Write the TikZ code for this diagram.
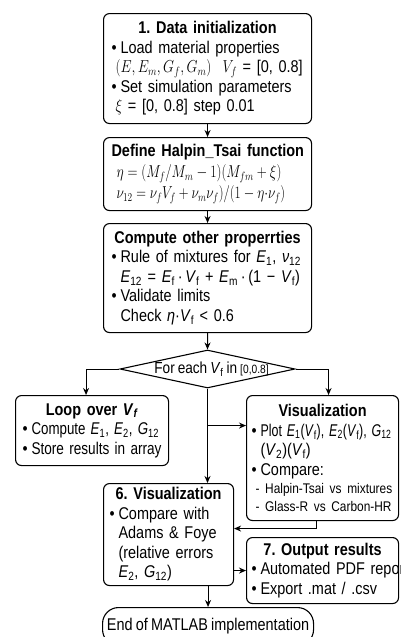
\documentclass[tikz,border=0pt]{standalone}
\usepackage{fontspec}
\usepackage{graphicx}
\setmainfont{Liberation Sans}[FakeStretch=0.85,WordSpace=0.8]
\usetikzlibrary{shapes.geometric,arrows.meta,calc}
\frenchspacing
\newcommand{\vi}[2]{\textit{#1}\textsubscript{#2}}
\newcommand{\bul}{\makebox[9pt][l]{•}}
\newcommand{\ind}{\hspace*{9pt}}
\newcommand{\lin}[1]{\mbox{#1}\par}
\newcommand{\ttl}[1]{{\centering\bfseries\mbox{#1}\par}}
\begin{document}
\begin{tikzpicture}[x=1pt,y=-1pt,
  font=\fontsize{17}{19.5}\selectfont,
  box/.style={draw, line width=1.1pt, rounded corners=6pt, anchor=north west,
    inner xsep=8pt, inner ysep=0pt, align=left},
  arr/.style={-{Stealth[length=7pt,width=6pt]}, line width=1pt}]
\useasboundingbox (0,0) rectangle (400,637);

\node[box, minimum width=208pt, minimum height=110pt, text width=192pt] (b1) at (103,13) {%
\ttl{1. Data initialization}
\lin{\bul Load material properties}
\lin{\hspace*{4pt}\scalebox{0.82}[1]{$(E, E_m, G_f, G_m)$}\ \ \scalebox{0.82}[1]{$V_f$} = [0, 0.8]}
\lin{\bul Set simulation parameters}
\lin{\hspace*{4pt}\scalebox{0.82}[1]{$\xi$} = [0, 0.8] step 0.01}};

\node[box, minimum width=208pt, minimum height=73pt, text width=192pt, font=\fontsize{17}{21}\selectfont] (b2) at (103,137) {%
\ttl{Define Halpin\_Tsai function}
\lin{\hspace*{5pt}\scalebox{0.8}[1]{$\eta = (M_f/M_m - 1)(M_{fm} + \xi)$}}
\lin{\hspace*{5pt}\scalebox{0.78}[1]{$\nu_{12} = \nu_f V_f + \nu_m \nu_f)/(1 - \eta{\cdot}\nu_f)$}}};

\node[box, minimum width=208pt, minimum height=109pt, text width=192pt] (b3) at (103,223) {%
\ttl{Compute other properrties}
\lin{\bul Rule of mixtures for \vi{E}{1}, \vi{ν}{12}}
\lin{\ind \vi{E}{12} = \vi{E}{f}\,·\,\vi{V}{f} + \vi{E}{m}\,·\,(1 − \vi{V}{f})}
\lin{\bul Validate limits}
\lin{\ind Check \textit{η}·\vi{V}{f} < 0.6}};

\node[draw, diamond, line width=1.1pt, minimum width=175pt, minimum height=38pt, inner sep=0pt] (dia) at (207.5,369) {};
\node[font=\fontsize{16}{18}\selectfont] (dtx) at ($(dia.center)+(4,0)$) {For each \vi{V}{f} in {\fontsize{12}{14}\selectfont [0,0.8]}};

\node[box, minimum width=153pt, minimum height=70pt, text width=139pt, inner xsep=7pt] (loop) at (15,395) {%
\ttl{Loop over \textit{V}\textsubscript{\textit{f}}}
\lin{\bul \scalebox{0.92}[1]{Compute \vi{E}{1}, \vi{E}{2}, \vi{G}{12}}}
\lin{\bul \scalebox{0.94}[1]{Store results in array}}};

\node[box, minimum width=152pt, minimum height=125pt, text width=142pt, inner xsep=5pt] (viz) at (246,395) {%
\ttl{Visualization}
\lin{\bul \scalebox{0.86}[1]{Plot \vi{E}{1}(\vi{V}{f}), \vi{E}{2}(\vi{V}{f}), \vi{G}{12}}}
\lin{\ind (\vi{V}{2})(\vi{V}{f})}
\lin{\bul Compare:}
{\fontsize{14}{18}\selectfont
\lin{\hspace*{4pt}- Halpin-Tsai vs mixtures}
\lin{\hspace*{4pt}- Glass-R vs Carbon-HR}}};

\node[box, minimum width=130pt, minimum height=102pt, text width=118pt, inner xsep=6pt] (b6) at (103,483) {%
\ttl{6. Visualization}
\lin{\bul Compare with}
\lin{\ind Adams \& Foye}
\lin{\ind (relative errors}
\lin{\ind \vi{E}{2}, \vi{G}{12})}};

\node[box, minimum width=152pt, minimum height=66pt, text width=142pt, inner xsep=5pt] (b7) at (246,537) {%
\ttl{7. Output results}
\lin{\bul Automated PDF report}
\lin{\bul Export .mat / .csv}};

\node[draw, line width=1.1pt, rounded corners=16pt, anchor=north west, minimum width=211pt, minimum height=38pt, inner sep=0pt] (end) at (102,607) {End of MATLAB implementation};

\draw[arr] (b1) -- (b2);
\draw[arr] (b2) -- (b3);
\draw[arr] (b3) -- (dia.north);
\draw[arr] (dia.west) -| ($(loop.north)+(-6,0)$);
\draw[arr] (dia.east) -| ($(viz.north)+(6,0)$);
\coordinate (jn) at ($(dia.south)+(0,37)$);
\draw[arr] (dia.south) -- (dia.south |- b6.north);
\draw[arr] (jn) -- (jn -| viz.west);
\draw[arr] ($(viz.south)+(-6,0)$) |- ($(b6.east)+(0,-6)$);
\draw[arr] (b6.east |- b7.west) -- (b7.west);
\draw[arr] (end.north |- b6.south) -- (end.north);
\end{tikzpicture}
\end{document}
